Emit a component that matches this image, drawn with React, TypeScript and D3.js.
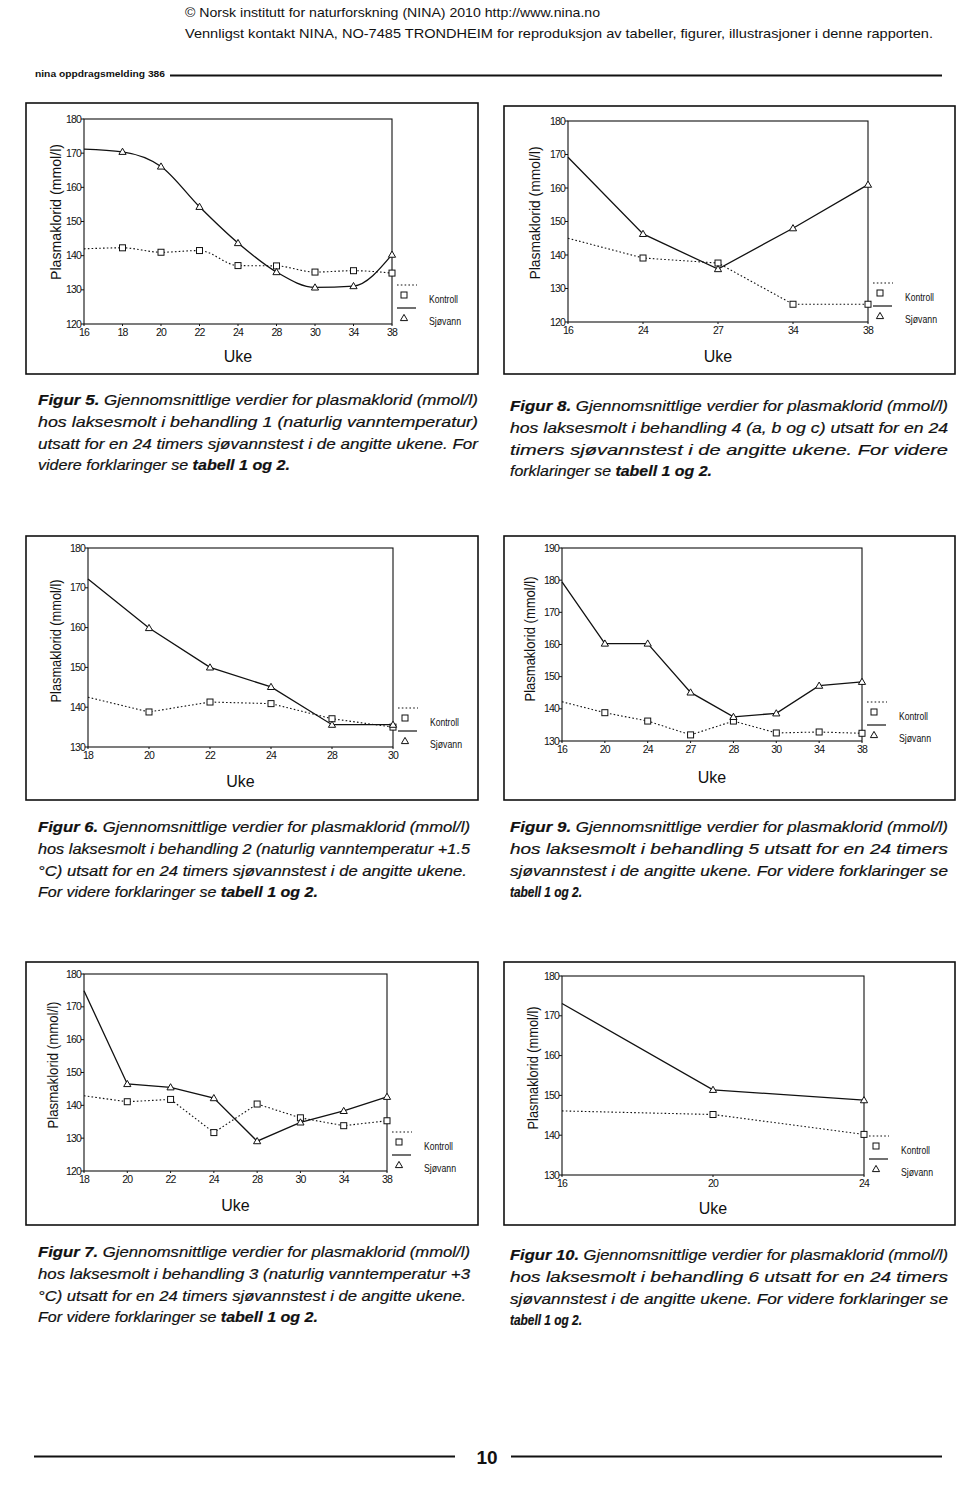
import React from "react";
import * as d3 from "d3";

// ---------- DATA ----------
const fig5Weeks = ["16", "18", "20", "22", "24", "28", "30", "34", "38"];
const fig5Kontroll = [142.0, 142.3, 141.0, 141.5, 137.1, 137.0, 135.2, 135.6, 134.9];
const fig5Sjovann = [171.2, 170.4, 166.1, 154.3, 143.7, 135.2, 130.7, 131.1, 140.3];

const fig8Weeks = ["16", "24", "27", "34", "38"];
const fig8Kontroll = [145.0, 139.1, 137.6, 125.3, 125.3];
const fig8Sjovann = [169.2, 146.3, 135.8, 148.0, 161.0];

const fig6Weeks = ["18", "20", "22", "24", "28", "30"];
const fig6Kontroll = [142.5, 138.8, 141.3, 140.9, 137.1, 135.0];
const fig6Sjovann = [172.2, 159.9, 150.0, 145.1, 135.6, 135.6];

const fig9Weeks = ["16", "20", "24", "27", "28", "30", "34", "38"];
const fig9Kontroll = [142.2, 138.8, 136.2, 131.9, 136.2, 132.5, 132.8, 132.4];
const fig9Sjovann = [179.5, 160.3, 160.3, 145.1, 137.5, 138.6, 147.2, 148.4];

const fig7Weeks = ["18", "20", "22", "24", "28", "30", "34", "38"];
const fig7Kontroll = [142.9, 141.1, 141.8, 131.7, 140.4, 136.2, 133.8, 135.3];
const fig7Sjovann = [174.9, 146.5, 145.5, 142.2, 129.1, 134.8, 138.3, 142.6];

const fig10Weeks = ["16", "20", "24"];
const fig10Kontroll = [146.1, 145.2, 140.2];
const fig10Sjovann = [173.1, 151.4, 148.8];

const yAxisTitle = "Plasmaklorid (mmol/l)";
const xAxisTitle = "Uke";
const legendLabels = ["Kontroll", "Sjøvann"];

const headerLine1 = "© Norsk institutt for naturforskning (NINA) 2010 http://www.nina.no";
const headerLine2 =
  "Vennligst kontakt NINA, NO-7485 TRONDHEIM for reproduksjon av tabeller, figurer, illustrasjoner i denne rapporten.";
const runningHead = "nina oppdragsmelding 386";
const pageNumber = "10";

type Seg = [string, boolean];
const cap5: Seg[][] = [
  [["Figur 5.", true], [" Gjennomsnittlige verdier for plasmaklorid (mmol/l)", false]],
  [["hos laksesmolt i behandling 1 (naturlig vanntemperatur)", false]],
  [["utsatt for en 24 timers sjøvannstest i de angitte ukene. For", false]],
  [["videre forklaringer se ", false], ["tabell 1 og 2.", true]],
];
const cap8: Seg[][] = [
  [["Figur 8.", true], [" Gjennomsnittlige verdier for plasmaklorid (mmol/l)", false]],
  [["hos laksesmolt i behandling 4 (a, b og c) utsatt for en 24", false]],
  [["timers sjøvannstest i de angitte ukene. For videre", false]],
  [["forklaringer se ", false], ["tabell 1 og 2.", true]],
];
const cap6: Seg[][] = [
  [["Figur 6.", true], [" Gjennomsnittlige verdier for plasmaklorid (mmol/l)", false]],
  [["hos laksesmolt i behandling 2 (naturlig vanntemperatur +1.5", false]],
  [["°C) utsatt for en 24 timers sjøvannstest i de angitte ukene.", false]],
  [["For videre forklaringer se ", false], ["tabell 1 og 2.", true]],
];
const cap9: Seg[][] = [
  [["Figur 9.", true], [" Gjennomsnittlige verdier for plasmaklorid (mmol/l)", false]],
  [["hos laksesmolt i behandling 5 utsatt for en 24 timers", false]],
  [["sjøvannstest i de angitte ukene. For videre forklaringer se", false]],
  [["tabell 1 og 2.", true]],
];
const cap7: Seg[][] = [
  [["Figur 7.", true], [" Gjennomsnittlige verdier for plasmaklorid (mmol/l)", false]],
  [["hos laksesmolt i behandling 3 (naturlig vanntemperatur +3", false]],
  [["°C) utsatt for en 24 timers sjøvannstest i de angitte ukene.", false]],
  [["For videre forklaringer se ", false], ["tabell 1 og 2.", true]],
];
const cap10: Seg[][] = [
  [["Figur 10.", true], [" Gjennomsnittlige verdier for plasmaklorid (mmol/l)", false]],
  [["hos laksesmolt i behandling 6 utsatt for en 24 timers", false]],
  [["sjøvannstest i de angitte ukene. For videre forklaringer se", false]],
  [["tabell 1 og 2.", true]],
];

// ---------- LAYOUT ----------
const NARROW = "'Liberation Sans Narrow','Arial Narrow','Liberation Sans',Arial,sans-serif";
const INK = "#111";

type Layout = {
  L: number; R: number; T: number; B: number;
  yMin: number; yMax: number;
  frame: [number, number, number, number];
  ukeY: number; ylabX: number; ylabY: number; ylabLen: number;
  smooth: boolean;
};

const lay5: Layout = { L: 84, R: 392, T: 119, B: 324, yMin: 120, yMax: 180, frame: [26, 103, 478, 374], ukeY: 362, ylabX: 56, ylabY: 212, ylabLen: 136, smooth: true };
const lay8: Layout = { L: 568, R: 868, T: 121, B: 322, yMin: 120, yMax: 180, frame: [504, 106, 955, 374], ukeY: 362, ylabX: 535, ylabY: 213, ylabLen: 133, smooth: false };
const lay6: Layout = { L: 88, R: 393, T: 548, B: 747, yMin: 130, yMax: 180, frame: [26, 536, 478, 800], ukeY: 787, ylabX: 56, ylabY: 641, ylabLen: 123, smooth: false };
const lay9: Layout = { L: 562, R: 862, T: 548, B: 741, yMin: 130, yMax: 190, frame: [504, 536, 955, 800], ukeY: 783, ylabX: 530, ylabY: 639, ylabLen: 125, smooth: false };
const lay7: Layout = { L: 84, R: 387, T: 974, B: 1171, yMin: 120, yMax: 180, frame: [26, 962, 478, 1225], ukeY: 1211, ylabX: 53, ylabY: 1065, ylabLen: 127, smooth: false };
const lay10: Layout = { L: 562, R: 864, T: 976, B: 1175, yMin: 130, yMax: 180, frame: [504, 962, 955, 1225], ukeY: 1214, ylabX: 533, ylabY: 1068, ylabLen: 123, smooth: false };

function Triangle({ cx, cy }: { cx: number; cy: number }) {
  return (
    <path
      d={`M${cx},${cy - 3.6}L${cx + 3.6},${cy + 2.6}L${cx - 3.6},${cy + 2.6}Z`}
      fill="#fff"
      stroke={INK}
      strokeWidth={1}
    />
  );
}
function Square({ cx, cy }: { cx: number; cy: number }) {
  return <rect x={cx - 3} y={cy - 3} width={6} height={6} fill="#fff" stroke={INK} strokeWidth={1} />;
}

function Chart({ weeks, kontroll, sjovann, lay }: { weeks: string[]; kontroll: number[]; sjovann: number[]; lay: Layout }) {
  const x = d3.scalePoint<string>().domain(weeks).range([lay.L, lay.R]).padding(0);
  const y = d3.scaleLinear().domain([lay.yMin, lay.yMax]).range([lay.B, lay.T]);
  const ticks = d3.range(lay.yMin, lay.yMax + 0.1, 10);
  const curve = lay.smooth ? d3.curveMonotoneX : d3.curveLinear;
  const line = d3
    .line<number>()
    .x((_, i) => x(weeks[i]) as number)
    .y((d) => y(d))
    .curve(curve);
  const [fx0, fy0, fx1, fy1] = lay.frame;
  const R = lay.R;
  const B = lay.B;
  return (
    <g>
      <rect x={fx0} y={fy0} width={fx1 - fx0} height={fy1 - fy0} fill="none" stroke={INK} strokeWidth={1.6} />
      {/* plot box */}
      <rect x={lay.L} y={lay.T} width={lay.R - lay.L} height={lay.B - lay.T} fill="none" stroke={INK} strokeWidth={1.1} />
      {ticks.map((t) => (
        <g key={t}>
          <line x1={lay.L - 3} x2={lay.L} y1={y(t)} y2={y(t)} stroke={INK} strokeWidth={1} />
          <text x={lay.L - 3} y={y(t) + 3.5} textAnchor="end" fontSize={10.5} fontFamily={NARROW} fill={INK} letterSpacing={-0.8}>
            {t}
          </text>
        </g>
      ))}
      {weeks.map((w) => (
        <g key={w}>
          <line x1={x(w)} x2={x(w)} y1={lay.B} y2={lay.B + 2} stroke={INK} strokeWidth={1} />
          <text x={x(w)} y={lay.B + 12} textAnchor="middle" fontSize={10.5} fontFamily={NARROW} fill={INK} letterSpacing={-0.8}>
            {w}
          </text>
        </g>
      ))}
      <path d={line(kontroll) || ""} fill="none" stroke={INK} strokeWidth={1.1} strokeDasharray="1.6,2.2" />
      <path d={line(sjovann) || ""} fill="none" stroke={INK} strokeWidth={1.3} />
      {kontroll.map((v, i) => (i === 0 ? null : <Square key={"k" + i} cx={x(weeks[i]) as number} cy={y(v)} />))}
      {sjovann.map((v, i) => (i === 0 ? null : <Triangle key={"s" + i} cx={x(weeks[i]) as number} cy={y(v)} />))}
      {/* legend */}
      <line x1={R + 5} x2={R + 25} y1={B - 39} y2={B - 39} stroke={INK} strokeWidth={1.1} strokeDasharray="1.6,2.2" />
      <Square cx={R + 12} cy={B - 29} />
      <line x1={R + 5} x2={R + 24} y1={B - 16} y2={B - 16} stroke={INK} strokeWidth={1.2} />
      <Triangle cx={R + 12} cy={B - 6} />
      <text x={R + 37} y={B - 21} fontSize={11.5} fontFamily={NARROW} fill={INK} textLength={29} lengthAdjust="spacingAndGlyphs">
        {legendLabels[0]}
      </text>
      <text x={R + 37} y={B + 1} fontSize={11.5} fontFamily={NARROW} fill={INK} textLength={32} lengthAdjust="spacingAndGlyphs">
        {legendLabels[1]}
      </text>
      {/* axis titles */}
      <text
        transform={`translate(${lay.ylabX + 5},${lay.ylabY}) rotate(-90)`}
        textAnchor="middle"
        fontSize={14}
        fontFamily={NARROW}
        fill={INK}
        textLength={lay.ylabLen}
        lengthAdjust="spacingAndGlyphs"
      >
        {yAxisTitle}
      </text>
      <text x={(lay.L + lay.R) / 2} y={lay.ukeY} textAnchor="middle" fontSize={16} fontFamily={NARROW} fill={INK}>
        {xAxisTitle}
      </text>
    </g>
  );
}

function Caption({ lines, x, y0, widths }: { lines: Seg[][]; x: number; y0: number; widths: number[] }) {
  return (
    <g>
      {lines.map((segs, i) => (
        <text
          key={i}
          x={x}
          y={y0 + i * 21.8}
          fontSize={15}
          fontStyle="italic"
          fontFamily={NARROW}
          fill={INK}
          stroke={INK}
          strokeWidth={0.2}
          textLength={widths[i]}
          lengthAdjust="spacingAndGlyphs"
        >
          {segs.map(([t, b], j) => (
            <tspan key={j} fontWeight={b ? "bold" : "normal"}>
              {t}
            </tspan>
          ))}
        </text>
      ))}
    </g>
  );
}

export default function App() {
  return (
    <svg
      width={960}
      height={1505}
      viewBox="0 0 960 1505"
      style={{ position: "absolute", left: 0, top: 0, background: "#fff" }}
    >
      <rect x={0} y={0} width={960} height={1505} fill="#fff" />
      {/* header */}
      <text x={185} y={17} fontSize={13.5} fontFamily={NARROW} fill={INK} textLength={415} lengthAdjust="spacingAndGlyphs">
        {headerLine1}
      </text>
      <text x={185} y={38} fontSize={13.5} fontFamily={NARROW} fill={INK} textLength={748} lengthAdjust="spacingAndGlyphs">
        {headerLine2}
      </text>
      <text x={35} y={77} fontSize={9.5} fontWeight="bold" fontFamily={NARROW} fill={INK} textLength={130} lengthAdjust="spacingAndGlyphs">
        {runningHead}
      </text>
      <line x1={170} x2={942} y1={75.5} y2={75.5} stroke={INK} strokeWidth={1.8} />

      <Chart weeks={fig5Weeks} kontroll={fig5Kontroll} sjovann={fig5Sjovann} lay={lay5} />
      <Chart weeks={fig8Weeks} kontroll={fig8Kontroll} sjovann={fig8Sjovann} lay={lay8} />
      <Chart weeks={fig6Weeks} kontroll={fig6Kontroll} sjovann={fig6Sjovann} lay={lay6} />
      <Chart weeks={fig9Weeks} kontroll={fig9Kontroll} sjovann={fig9Sjovann} lay={lay9} />
      <Chart weeks={fig7Weeks} kontroll={fig7Kontroll} sjovann={fig7Sjovann} lay={lay7} />
      <Chart weeks={fig10Weeks} kontroll={fig10Kontroll} sjovann={fig10Sjovann} lay={lay10} />

      <Caption lines={cap5} x={38} y0={405} widths={[440, 440, 440, 252]} />
      <Caption lines={cap8} x={510} y0={411} widths={[438, 438, 438, 202]} />
      <Caption lines={cap6} x={38} y0={832} widths={[432, 432, 429, 280]} />
      <Caption lines={cap9} x={510} y0={832} widths={[438, 438, 438, 72]} />
      <Caption lines={cap7} x={38} y0={1257} widths={[432, 432, 428, 280]} />
      <Caption lines={cap10} x={510} y0={1260} widths={[438, 438, 438, 72]} />

      {/* footer */}
      <line x1={34} x2={455} y1={1456.5} y2={1456.5} stroke={INK} strokeWidth={2} />
      <text x={487} y={1464} textAnchor="middle" fontSize={19} fontWeight="bold" fontFamily={NARROW} fill={INK}>
        {pageNumber}
      </text>
      <line x1={511} x2={942} y1={1456.5} y2={1456.5} stroke={INK} strokeWidth={2} />
    </svg>
  );
}
